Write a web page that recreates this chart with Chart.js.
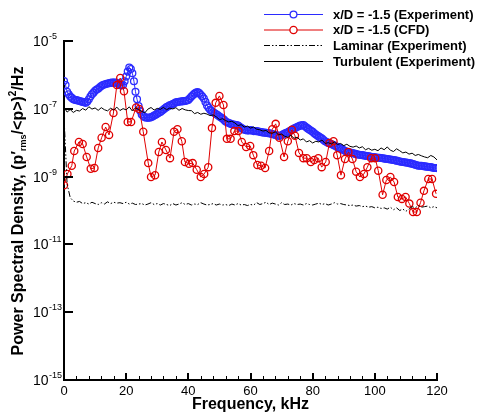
<!DOCTYPE html>
<html>
<head>
<meta charset="utf-8">
<script src="https://cdn.jsdelivr.net/npm/chart.js@4.4.1/dist/chart.umd.min.js"></script>
<style>
  html, body { margin: 0; padding: 0; background: #fff; }
  #wrap { width: 480px; height: 416px; }
</style>
</head>
<body>
<div id="wrap"><canvas id="psd" width="480" height="416"></canvas></div>
<script>
// frequency grid of the measured spectra, kHz
const freqGrid = [0,1,2,3,4,5,6,7,8,9,10,11,12,13,14,15,16,17,18,19,20,21,22,23,24,25,26,27,28,29,30,
  31,32,33,34,35,36,37,38,39,40,41,42,43,44,45,46,47,48,49,50,51,52,53,54,55,56,57,58,59,60,
  61,62,63,64,65,66,67,68,69,70,71,72,73,74,75,76,77,78,79,80,81,82,83,84,85,86,87,88,89,90,
  91,92,93,94,95,96,97,98,99,100,101,102,103,104,105,106,107,108,109,110,111,112,113,114,115,116,117,118,119,120];

// finer grid of the x/D = -1.5 experiment, kHz
const freqExp = [0,0.5,1,1.5,2,2.5,3,3.5,4,4.5,5,5.5,6,6.5,7,7.5,8,8.5,9,9.5,10,10.5,11,11.5,12,12.5,13,13.5,14,14.5,
  15,15.5,16,16.5,17,17.5,18,18.5,19,19.5,20,20.5,21,21.5,22,22.5,23,23.5,24,24.5,25,25.5,26,26.5,27,27.5,28,28.5,29,29.5,
  30,30.5,31,31.5,32,32.5,33,33.5,34,34.5,35,35.5,36,36.5,37,37.5,38,38.5,39,39.5,40,40.5,41,41.5,42,42.5,43,43.5,44,44.5,
  45,45.5,46,46.5,47,47.5,48,48.5,49,49.5,50,50.5,51,51.5,52,52.5,53,53.5,54,54.5,55,55.5,56,56.5,57,57.5,58,58.5,59,59.5,
  60,60.5,61,61.5,62,62.5,63,63.5,64,64.5,65,65.5,66,66.5,67,67.5,68,68.5,69,69.5,70,70.5,71,71.5,72,72.5,73,73.5,74,74.5,
  75,75.5,76,76.5,77,77.5,78,78.5,79,79.5,80,80.5,81,81.5,82,82.5,83,83.5,84,84.5,85,85.5,86,86.5,87,87.5,88,88.5,89,89.5,
  90,90.5,91,91.5,92,92.5,93,93.5,94,94.5,95,95.5,96,96.5,97,97.5,98,98.5,99,99.5,100,100.5,101,101.5,102,102.5,103,103.5,104,104.5,
  105,105.5,106,106.5,107,107.5,108,108.5,109,109.5,110,110.5,111,111.5,112,112.5,113,113.5,114,114.5,115,115.5,116,116.5,117,117.5,118,118.5,119,119.5,120];

// x/D = -1.5 (Experiment)
const psdExp = [6.6e-7,5.0e-7,3.2e-7,2.7e-7,2.3e-7,2.1e-7,1.9e-7,1.85e-7,1.8e-7,1.75e-7,
  1.7e-7,1.65e-7,1.6e-7,1.55e-7,1.5e-7,1.65e-7,1.9e-7,2.3e-7,2.7e-7,3.0e-7,
  3.4e-7,3.7e-7,3.9e-7,4.3e-7,4.7e-7,5.0e-7,5.2e-7,5.4e-7,5.6e-7,5.7e-7,
  5.8e-7,5.9e-7,5.9e-7,5.9e-7,5.8e-7,5.4e-7,5.0e-7,4.9e-7,5.0e-7,6.5e-7,
  8.9e-7,1.25e-6,1.66e-6,1.5e-6,1.12e-6,6.5e-7,3.2e-7,1.9e-7,1.2e-7,8.8e-8,
  6.8e-8,6.1e-8,5.6e-8,5.5e-8,5.4e-8,5.5e-8,5.6e-8,5.9e-8,6.3e-8,6.7e-8,
  7.1e-8,7.6e-8,8.1e-8,8.8e-8,9.5e-8,1.03e-7,1.12e-7,1.19e-7,1.26e-7,1.32e-7,
  1.38e-7,1.46e-7,1.55e-7,1.58e-7,1.62e-7,1.64e-7,1.66e-7,1.68e-7,1.7e-7,1.75e-7,
  1.82e-7,2.05e-7,2.3e-7,2.55e-7,2.8e-7,3.0e-7,3.1e-7,2.9e-7,2.6e-7,2.3e-7,
  2.0e-7,1.6e-7,1.26e-7,1.08e-7,9.3e-8,8.6e-8,7.9e-8,7.4e-8,6.9e-8,6.4e-8,
  5.9e-8,5.5e-8,5.2e-8,4.7e-8,4.2e-8,4.0e-8,3.8e-8,3.65e-8,3.5e-8,3.45e-8,
  3.4e-8,3.3e-8,3.2e-8,2.95e-8,2.75e-8,2.55e-8,2.4e-8,2.35e-8,2.3e-8,2.3e-8,
  2.35e-8,2.3e-8,2.2e-8,2.2e-8,2.2e-8,2.15e-8,2.1e-8,2.05e-8,2.0e-8,1.98e-8,
  1.95e-8,1.92e-8,1.9e-8,1.85e-8,1.8e-8,1.75e-8,1.7e-8,1.64e-8,1.58e-8,1.6e-8,
  1.66e-8,1.76e-8,1.86e-8,1.95e-8,2.04e-8,2.17e-8,2.3e-8,2.45e-8,2.6e-8,2.75e-8,
  2.9e-8,3.05e-8,3.2e-8,3.25e-8,3.3e-8,3.05e-8,2.8e-8,2.6e-8,2.4e-8,2.25e-8,
  2.1e-8,1.9e-8,1.74e-8,1.62e-8,1.51e-8,1.41e-8,1.32e-8,1.2e-8,1.1e-8,1.04e-8,
  9.8e-9,9.4e-9,9.1e-9,8.7e-9,8.3e-9,7.8e-9,7.4e-9,7.1e-9,6.8e-9,6.4e-9,
  6.0e-9,5.7e-9,5.4e-9,5.25e-9,5.1e-9,5.0e-9,4.9e-9,4.75e-9,4.6e-9,4.5e-9,
  4.4e-9,4.35e-9,4.3e-9,4.2e-9,4.1e-9,4.05e-9,4.0e-9,3.9e-9,3.8e-9,3.75e-9,
  3.7e-9,3.65e-9,3.6e-9,3.58e-9,3.55e-9,3.48e-9,3.4e-9,3.35e-9,3.3e-9,3.25e-9,
  3.2e-9,3.15e-9,3.1e-9,3.02e-9,2.95e-9,2.88e-9,2.8e-9,2.75e-9,2.7e-9,2.65e-9,
  2.6e-9,2.55e-9,2.5e-9,2.45e-9,2.4e-9,2.32e-9,2.24e-9,2.17e-9,2.1e-9,2.1e-9,
  2.1e-9,2.05e-9,2.0e-9,1.97e-9,1.95e-9,1.92e-9,1.9e-9,1.85e-9,1.8e-9,1.79e-9,1.78e-9];

// Laminar (Experiment)
const psdLaminar = [6.0e-8,6.0e-10,2.4e-10,1.9e-10,1.75e-10,1.85e-10,1.6e-10,1.7e-10,1.55e-10,1.75e-10,
  1.6e-10,1.5e-10,1.7e-10,1.55e-10,1.8e-10,1.6e-10,1.75e-10,1.65e-10,1.7e-10,1.6e-10,
  1.75e-10,1.55e-10,1.65e-10,1.5e-10,1.55e-10,1.6e-10,1.45e-10,1.55e-10,1.7e-10,1.5e-10,
  1.6e-10,1.45e-10,1.6e-10,1.5e-10,1.4e-10,1.6e-10,1.45e-10,1.55e-10,1.7e-10,1.5e-10,
  1.6e-10,1.45e-10,1.55e-10,1.5e-10,1.7e-10,1.55e-10,1.45e-10,1.5e-10,1.6e-10,1.45e-10,
  1.55e-10,1.45e-10,1.5e-10,1.4e-10,1.55e-10,1.45e-10,1.6e-10,1.45e-10,1.5e-10,1.4e-10,
  1.5e-10,1.45e-10,1.7e-10,1.5e-10,1.6e-10,1.75e-10,1.5e-10,1.65e-10,1.55e-10,1.45e-10,
  1.7e-10,1.5e-10,1.55e-10,1.45e-10,1.6e-10,1.5e-10,1.55e-10,1.45e-10,1.6e-10,1.5e-10,
  1.45e-10,1.55e-10,1.65e-10,1.5e-10,1.6e-10,1.45e-10,1.55e-10,1.7e-10,1.55e-10,1.6e-10,
  1.5e-10,1.45e-10,1.4e-10,1.45e-10,1.35e-10,1.4e-10,1.3e-10,1.35e-10,1.25e-10,1.3e-10,
  1.2e-10,1.25e-10,1.15e-10,1.2e-10,1.1e-10,1.25e-10,1.05e-10,1.2e-10,1.0e-10,1.1e-10,
  0.95e-10,1.1e-10,1.3e-10,1.2e-10,1.4e-10,1.25e-10,1.3e-10,1.35e-10,1.2e-10,1.3e-10,1.2e-10];

// Turbulent (Experiment)
const psdTurbulent = [1.10e-7,8.0e-8,9.5e-8,7.8e-8,9.0e-8,8.6e-8,1.02e-7,9.1e-8,1.15e-7,9.8e-8,
  1.06e-7,9.0e-8,1.08e-7,9.4e-8,8.7e-8,1.04e-7,9.2e-8,1.12e-7,8.9e-8,1.01e-7,
  9.3e-8,1.14e-7,8.6e-8,1.07e-7,9.5e-8,8.4e-8,7.6e-8,9.8e-8,1.09e-7,9.2e-8,
  1.03e-7,9.6e-8,1.10e-7,9.4e-8,1.05e-7,9.9e-8,1.08e-7,9.0e-8,1.02e-7,9.3e-8,
  8.9e-8,8.8e-8,7.2e-8,7.8e-8,6.9e-8,7.4e-8,7.0e-8,6.3e-8,6.6e-8,5.8e-8,
  4.8e-8,5.1e-8,4.5e-8,4.1e-8,4.3e-8,3.8e-8,3.2e-8,3.4e-8,2.9e-8,3.1e-8,
  2.7e-8,2.9e-8,2.5e-8,2.4e-8,2.2e-8,2.3e-8,1.95e-8,1.9e-8,2.1e-8,1.7e-8,
  1.8e-8,1.55e-8,1.45e-8,1.65e-8,1.35e-8,1.45e-8,1.2e-8,1.3e-8,1.05e-8,1.15e-8,
  9.8e-9,1.1e-8,1.05e-8,1.2e-8,9.5e-9,1.0e-8,9.2e-9,1.05e-8,8.8e-9,9.5e-9,
  8.2e-9,9.0e-9,7.8e-9,7.4e-9,8.0e-9,7.0e-9,7.6e-9,6.2e-9,6.8e-9,6.0e-9,
  6.4e-9,5.8e-9,7.0e-9,6.2e-9,7.5e-9,6.0e-9,5.5e-9,6.6e-9,5.8e-9,5.0e-9,
  5.3e-9,4.6e-9,4.9e-9,4.2e-9,4.5e-9,4.1e-9,3.8e-9,3.6e-9,4.2e-9,3.8e-9,3.1e-9];

// x/D = -1.5 (CFD)
const freqCfd = [0,1.1,2.5,3.3,4.8,6.0,7.3,8.6,9.8,11.0,12.1,13.4,14.5,15.9,17.0,18.1,19.3,20.5,21.6,23.2,
  24.2,25.5,27.1,28.0,29.3,30.5,31.5,32.8,34.1,35.4,36.5,37.9,38.9,40.2,41.4,42.7,44.0,45.1,46.4,47.6,
  48.8,50.0,51.3,52.4,53.6,54.8,56.1,57.2,58.6,59.9,60.9,62.2,63.4,64.7,66.0,67.0,68.1,69.3,70.8,72.0,
  73.3,74.3,75.6,77.0,78.1,79.4,80.5,81.8,82.9,84.2,85.4,86.7,87.9,89.1,90.4,91.5,92.8,94.0,95.2,96.5,
  97.6,98.8,100.1,101.1,102.5,103.7,105.0,106.2,107.4,108.7,109.9,111.1,112.3,113.5,114.7,115.8,117.2,118.4,119.7];
const psdCfd = [5.6e-10,1.2e-9,2.1e-9,5.7e-9,1.05e-8,9.2e-9,3.8e-9,1.7e-9,1.8e-9,7.0e-9,
  1.4e-8,2.9e-8,1.7e-8,7.5e-8,5.0e-7,8.1e-7,3.3e-7,4.1e-8,4.1e-8,1.1e-7,
  9.9e-8,2.1e-8,2.5e-9,9.7e-10,1.1e-9,5.3e-9,1.05e-8,6.1e-9,3.5e-9,2.1e-8,
  2.5e-8,1.1e-8,2.7e-9,2.4e-9,2.5e-9,1.6e-9,9.7e-10,1.2e-9,1.9e-9,2.7e-8,
  1.5e-7,2.4e-7,1.3e-7,1.3e-8,1.3e-8,2.2e-8,2.2e-8,1.05e-8,7.5e-9,8.0e-9,
  4.3e-9,2.2e-9,2.1e-9,1.8e-9,5.7e-9,2.5e-8,3.6e-8,1.4e-8,3.8e-9,1.1e-8,
  2.4e-8,1.6e-8,5.0e-9,3.5e-9,3.5e-9,2.7e-9,3.1e-9,3.5e-9,1.9e-9,2.7e-9,
  9.8e-9,1.1e-8,4.3e-9,1.1e-9,3.3e-9,5.3e-9,3.3e-9,1.4e-9,9.7e-10,1.2e-9,
  1.9e-9,3.5e-9,3.5e-9,1.5e-9,2.9e-10,7.9e-10,9.7e-10,6.9e-10,2.5e-10,2.2e-10,
  2.5e-10,1.6e-10,9.0e-11,9.0e-11,1.7e-10,3.8e-10,8.5e-10,8.5e-10,3.1e-10];

// axis ticks
const xMajorTicks = [0,20,40,60,80,100,120];
const xMinorTicks = [4,8,12,16,24,28,32,36,44,48,52,56,64,68,72,76,84,88,92,96,104,108,112,116];
const yTickValues = [1e-5,1e-7,1e-9,1e-11,1e-13,1e-15];
const yTickExps = ['-5','-7','-9','-11','-13','-15'];

const FONT = 'Arial, "Liberation Sans", Helvetica, sans-serif';

const toPoints = (xs, ys) => xs.map((f, i) => ({ x: f, y: ys[i] }));

// inner ticks, power-of-ten labels, axis titles and legend
const psdDecor = {
  id: 'psdDecor',
  afterDraw(chart) {
    const { ctx, chartArea: a, scales: { x, y } } = chart;
    ctx.save();
    ctx.strokeStyle = '#000';
    ctx.fillStyle = '#000';

    xMinorTicks.forEach(v => {
      const px = Math.round(x.getPixelForValue(v)) + 0.5;
      ctx.lineWidth = 1;
      ctx.beginPath(); ctx.moveTo(px, a.bottom); ctx.lineTo(px, a.bottom - 4); ctx.stroke();
    });
    xMajorTicks.forEach(v => {
      const px = Math.round(x.getPixelForValue(v));
      ctx.lineWidth = 2;
      ctx.beginPath(); ctx.moveTo(px, a.bottom); ctx.lineTo(px, a.bottom - 7); ctx.stroke();
    });

    yTickValues.forEach((v, i) => {
      const py = Math.round(y.getPixelForValue(v));
      ctx.lineWidth = 2;
      ctx.beginPath(); ctx.moveTo(a.left, py); ctx.lineTo(a.left + 9, py); ctx.stroke();
      ctx.textBaseline = 'middle';
      ctx.textAlign = 'left';
      ctx.font = '14px ' + FONT;
      ctx.fillText('10', 33, py + 1);
      const w = ctx.measureText('10').width;
      ctx.font = '9px ' + FONT;
      ctx.fillText(yTickExps[i], 33 + w + 0.5, py - 4);
    });

    // x title
    ctx.font = 'bold 16px ' + FONT;
    ctx.textAlign = 'center';
    ctx.textBaseline = 'middle';
    ctx.fillText('Frequency, kHz', (a.left + a.right) / 2, 405);

    // y title, rotated, with subscript and superscript
    const parts = [
      { t: 'Power Spectral Density, (p\u2032', size: 16, dy: 0 },
      { t: 'rms', size: 9, dy: 5 },
      { t: '/<p>)', size: 16, dy: 0 },
      { t: '2', size: 10, dy: -6 },
      { t: '/Hz', size: 16, dy: 0 }
    ];
    let total = 0;
    parts.forEach(p => { ctx.font = 'bold ' + p.size + 'px ' + FONT; p.w = ctx.measureText(p.t).width; total += p.w; });
    ctx.save();
    ctx.translate(19, 211);
    ctx.rotate(-Math.PI / 2);
    ctx.textAlign = 'left';
    let cx = -total / 2;
    parts.forEach(p => {
      ctx.font = 'bold ' + p.size + 'px ' + FONT;
      ctx.fillText(p.t, cx, p.dy);
      cx += p.w;
    });
    ctx.restore();

    // legend
    const rows = [14, 29.5, 45, 61];
    ctx.textAlign = 'left';
    ctx.textBaseline = 'middle';
    chart.data.datasets.forEach((ds, r) => {
      const ly = rows[r];
      ctx.save();
      ctx.strokeStyle = ds.borderColor;
      ctx.lineWidth = ds.borderWidth;
      ctx.setLineDash(ds.borderDash || []);
      ctx.beginPath(); ctx.moveTo(264, ly + 0.5); ctx.lineTo(323, ly + 0.5); ctx.stroke();
      ctx.setLineDash([]);
      if (ds.pointRadius > 0) {
        ctx.strokeStyle = ds.pointBorderColor;
        ctx.lineWidth = ds.pointBorderWidth;
        ctx.fillStyle = '#fff';
        ctx.beginPath(); ctx.arc(293.5, ly + 0.5, ds.pointRadius, 0, Math.PI * 2); ctx.fill(); ctx.stroke();
      }
      ctx.restore();
      ctx.font = 'bold 13px ' + FONT;
      ctx.fillStyle = '#000';
      ctx.fillText(ds.label, 333, ly + 1);
    });
    ctx.restore();
  }
};

new Chart(document.getElementById('psd'), {
  type: 'line',
  data: {
    datasets: [
      {
        label: 'x/D = -1.5 (Experiment)',
        data: toPoints(freqExp, psdExp),
        borderColor: '#2b2bff', borderWidth: 1,
        pointRadius: 3.4, pointBorderWidth: 1.3, pointBorderColor: '#2b2bff',
        pointBackgroundColor: 'rgba(255,255,255,0)', order: 4
      },
      {
        label: 'x/D = -1.5 (CFD)',
        data: toPoints(freqCfd, psdCfd),
        borderColor: '#e00000', borderWidth: 1,
        pointRadius: 3.6, pointBorderWidth: 1.3, pointBorderColor: '#e00000',
        pointBackgroundColor: 'rgba(255,255,255,0)', order: 3
      },
      {
        label: 'Laminar (Experiment)',
        data: toPoints(freqGrid, psdLaminar),
        borderColor: '#000', borderWidth: 1, borderDash: [6, 2, 1.5, 2, 1.5, 2],
        pointRadius: 0, order: 2
      },
      {
        label: 'Turbulent (Experiment)',
        data: toPoints(freqGrid, psdTurbulent),
        borderColor: '#000', borderWidth: 1,
        pointRadius: 0, order: 1
      }
    ]
  },
  options: {
    responsive: false,
    devicePixelRatio: 1,
    animation: false,
    layout: { padding: { top: 41, right: 43, bottom: 0, left: 0 } },
    plugins: { legend: { display: false }, tooltip: { enabled: false } },
    scales: {
      x: {
        type: 'linear', min: 0, max: 120,
        grid: { display: false, drawTicks: false },
        border: { display: true, color: '#000', width: 2 },
        ticks: { stepSize: 20, color: '#000', font: { size: 13, family: FONT }, padding: 4, maxRotation: 0 },
        afterFit(s) { s.height = 36; }
      },
      y: {
        type: 'logarithmic', min: 1e-15, max: 1e-5,
        grid: { display: false, drawTicks: false },
        border: { display: true, color: '#000', width: 2 },
        ticks: { display: false },
        afterFit(s) { s.width = 64; }
      }
    }
  },
  plugins: [psdDecor]
});
</script>
</body>
</html>
